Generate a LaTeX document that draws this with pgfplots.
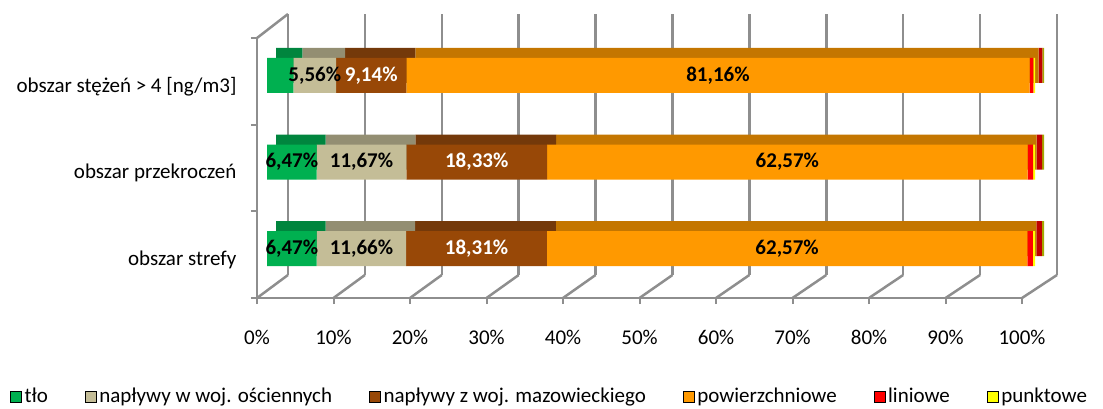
\documentclass[border=0pt]{standalone}
\usepackage{fontspec}
\setmainfont{Carlito}
\usepackage{pgfplots}
\usepackage{pgfplotstable}
\pgfplotsset{compat=1.18}

\definecolor{tlo}{HTML}{00B050}
\definecolor{tloD}{HTML}{00853E}
\definecolor{osc}{HTML}{C4BD97}
\definecolor{oscD}{HTML}{938E72}
\definecolor{maz}{HTML}{984807}
\definecolor{mazD}{HTML}{74390A}
\definecolor{pow}{HTML}{FF9900}
\definecolor{powD}{HTML}{C47600}
\definecolor{lin}{HTML}{FF0000}
\definecolor{linD}{HTML}{C00000}
\definecolor{pkt}{HTML}{FFFF00}
\definecolor{pktD}{HTML}{A6A600}
\definecolor{gridc}{HTML}{8E8E8E}

% y: 0.5 strefa, 1.5 przekroczenia, 2.5 stezenia > 4
\pgfplotstableread{
y   tlo  osc   maz   pow   lin  pkt
0.5 6.47 11.66 18.31 62.57 0.70 0.29
1.5 6.47 11.67 18.33 62.57 0.70 0.26
2.5 3.44 5.56  9.14  81.16 0.50 0.20
}\dane

% data labels: x = middle of the segment
\pgfplotstableread{
x      y   v
3.235  0.5 6.47
12.30  0.5 11.66
67.725 0.5 62.57
3.235  1.5 6.47
12.305 1.5 11.67
67.755 1.5 62.57
6.22   2.5 5.56
58.72  2.5 81.16
}\etyczarne
\pgfplotstableread{
x      y   v
27.285 0.5 18.31
27.305 1.5 18.33
13.57  2.5 9.14
}\etybiale

\newcommand\chartfont{\fontsize{21}{25}\selectfont}

\begin{document}
\begin{tikzpicture}[x=1pt,y=1pt]
\path[use as bounding box] (0,0) rectangle (1103,408);

% back wall
\begin{axis}[
    at={(288pt,133pt)}, anchor=south west,
    scale only axis, width=769pt, height=261pt,
    xmin=0, xmax=100, ymin=0, ymax=1,
    xtick={0,10,...,100}, ytick=\empty,
    xticklabels={}, xmajorgrids,
    grid style={gridc, line width=2.5pt},
    axis line style={draw=none}, tick style={draw=none},
]
\end{axis}

% floor and left wall edges
\foreach \k in {0,...,10}
  \draw[gridc, line width=2.5pt] ({257+76.5*\k},110) -- ({288+76.9*\k},133);
\draw[gridc, line width=2.5pt] (257,370) -- (288,394);

% front plane: axes, labels, legend
\begin{axis}[
    at={(257pt,110pt)}, anchor=south west,
    scale only axis, width=765pt, height=260pt,
    xmin=0, xmax=100, ymin=0, ymax=3,
    axis x line*=bottom, axis y line*=left,
    axis line style={-, gridc, line width=2.5pt},
    tick align=outside, major tick length=6pt,
    tick style={gridc, line width=2pt},
    xtick={0,10,...,100},
    xticklabels={0\%,10\%,20\%,30\%,40\%,50\%,60\%,70\%,80\%,90\%,100\%},
    xticklabel style={font=\chartfont, yshift=-23pt},
    ytick={0,1,2,3},
    y tick label as interval,
    yticklabels={obszar strefy, obszar przekroczeń, {obszar stężeń > 4 [ng/m3]}},
    yticklabel style={font=\chartfont, xshift=-11pt, yshift=-5pt},
    legend columns=6,
    legend style={at={(-0.3229,-0.378)}, anchor=west, draw=none, fill=none,
        inner sep=0pt, font=\chartfont, nodes={inner sep=0pt},
        /tikz/every odd column/.append style={column sep=3pt},
        /tikz/every even column/.append style={column sep=37pt}},
    legend cell align=left,
    legend image code/.code={\fill[#1] (0pt,-6pt) rectangle (11pt,5pt);},
]
\addlegendimage{fill=tlo}
\addlegendentry{tło}
\addlegendimage{fill=osc}
\addlegendentry{napływy w woj. ościennych}
\addlegendimage{fill=maz}
\addlegendentry{napływy z woj. mazowieckiego}
\addlegendimage{fill=pow}
\addlegendentry{powierzchniowe}
\addlegendimage{fill=lin}
\addlegendentry{liniowe}
\addlegendimage{fill=pkt}
\addlegendentry{punktowe}
\end{axis}

% top and side faces of the bars
\begin{axis}[
    at={(276pt,126pt)}, anchor=south west,
    scale only axis, width=768pt, height=260pt,
    xmin=0, xmax=100, ymin=0, ymax=3,
    xbar stacked, bar width=35pt, hide axis, clip=false,
]
\addplot[fill=tloD, draw=none] table[x=tlo, y=y] {\dane};
\addplot[fill=oscD, draw=none] table[x=osc, y=y] {\dane};
\addplot[fill=mazD, draw=none] table[x=maz, y=y] {\dane};
\addplot[fill=powD, draw=none] table[x=pow, y=y] {\dane};
\addplot[fill=linD, draw=none] table[x=lin, y=y] {\dane};
\addplot[fill=pktD, draw=none] table[x=pkt, y=y] {\dane};
\end{axis}

% front faces of the bars
\begin{axis}[
    at={(267pt,116pt)}, anchor=south west,
    scale only axis, width=768pt, height=260pt,
    xmin=0, xmax=100, ymin=0, ymax=3,
    xbar stacked, bar width=35pt, hide axis, clip=false,
]
\addplot[fill=tlo, draw=none] table[x=tlo, y=y] {\dane};
\addplot[fill=osc, draw=none] table[x=osc, y=y] {\dane};
\addplot[fill=maz, draw=none] table[x=maz, y=y] {\dane};
\addplot[fill=pow, draw=none] table[x=pow, y=y] {\dane};
\addplot[fill=lin, draw=none] table[x=lin, y=y] {\dane};
\addplot[fill=pkt, draw=none] table[x=pkt, y=y] {\dane};
\end{axis}

% data labels
\begin{axis}[
    at={(267pt,116pt)}, anchor=south west,
    scale only axis, width=768pt, height=260pt,
    xmin=0, xmax=100, ymin=0, ymax=3,
    hide axis, clip=false,
    point meta=explicit,
    nodes near coords={\bfseries\pgfmathprintnumber[fixed, fixed zerofill,
        precision=2, use comma, assume math mode=true]{\pgfplotspointmeta}\%},
    nodes near coords align=center,
    every node near coord/.append style={font=\chartfont, inner sep=0pt, anchor=center},
]
\addplot[only marks, mark=o, mark size=0pt, mark options={draw=none},
    every node near coord/.append style={black}]
    table[x=x, y=y, meta=v] {\etyczarne};
\addplot[only marks, mark=o, mark size=0pt, mark options={draw=none},
    every node near coord/.append style={white}]
    table[x=x, y=y, meta=v] {\etybiale};
\end{axis}
\end{tikzpicture}
\end{document}
